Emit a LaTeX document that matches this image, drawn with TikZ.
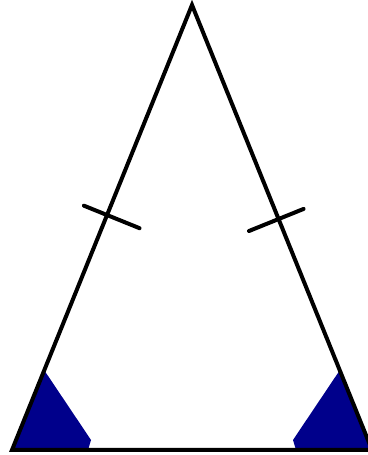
\documentclass[tikz,border=0pt]{standalone}
\usetikzlibrary{calc}
\definecolor{inkc}{RGB}{0,0,0}
\definecolor{anglec}{RGB}{0,0,139}
\tikzset{
  side/.style={draw=inkc, line width=4pt, line join=miter},
  tick/.style={draw=inkc, line width=4pt, line cap=round},
  angfill/.style={fill=anglec, draw=none},
}
\begin{document}
\begin{tikzpicture}[x=1pt, y=1pt]
  \useasboundingbox (0,0) rectangle (367,455);
  % corners of the triangle
  \coordinate (A) at (12,5);
  \coordinate (B) at (372,5);
  \coordinate (C) at (192,450);
  % equal base angles
  \fill[angfill] (A) -- ($(A)!86pt!(C)$) -- ($(A)+(79,10)$) -- ($(A)+(76,0)$) -- cycle;
  \fill[angfill] (B) -- ($(B)!86pt!(C)$) -- ($(B)+(-79,10)$) -- ($(B)+(-76,0)$) -- cycle;
  % the triangle
  \draw[side] (A) -- (C) -- (B) -- cycle;
  % equal legs
  \coordinate (ml) at ($(A)!0.528!(C)$);
  \coordinate (mr) at ($(B)!0.519!(C)$);
  \draw[tick] ($(ml)!25pt!90:(C)$) -- ($(ml)!35pt!-90:(C)$);
  \draw[tick] ($(mr)!27pt!-90:(C)$) -- ($(mr)!32pt!90:(C)$);
\end{tikzpicture}
\end{document}
